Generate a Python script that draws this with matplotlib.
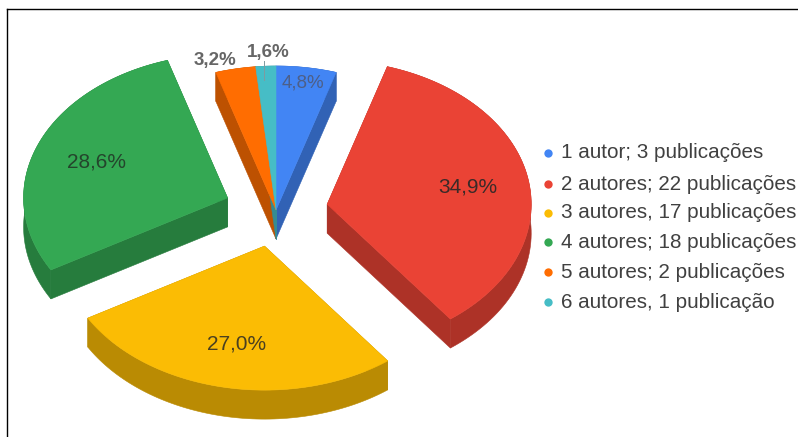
import numpy as np
import matplotlib
matplotlib.use("Agg")
import matplotlib.pyplot as plt
from matplotlib.lines import Line2D
from matplotlib.patches import Polygon
from matplotlib.colors import to_rgb

plt.rcParams['font.family'] = ['Liberation Sans', 'DejaVu Sans']

# Publicações por número de autores
categorias = ["1 autor; 3 publicações", "2 autores; 22 publicações",
              "3 autores, 17 publicações", "4 autores; 18 publicações",
              "5 autores; 2 publicações", "6 autores, 1 publicação"]
publicacoes = [3, 22, 17, 18, 2, 1]
cores = ["#4285F4", "#EA4335", "#FBBC04", "#34A853", "#FF6D01", "#46BDC6"]

# Geometria da pizza em pixels
CX, CY = 276, 210
RX, RY = 204, 144
ALTURA = 29
afastamento = [0, 52, 58, 52, 0, 0]
raio_rotulo = [0.89, 0.70, 0.69, 0.69, None, None]
rotulo_fora = {4: (215, 60), 5: (268, 52)}
cor_rotulo = ["#4d5f88", "#3a2a28", "#4a4020", "#24452c", "#666666", "#666666"]
tam_rotulo = [13.5, 15, 15, 15, 13.5, 13.5]

fig = plt.figure(figsize=(7.98, 4.37), dpi=100)
ax = fig.add_axes([0, 0, 1, 1])
ax.set_xlim(0, 798)
ax.set_ylim(437, 0)
ax.axis("off")


def ponto(x0, y0, ang, r=1.0):
    # ang em graus, a partir do topo e em sentido horário
    a = np.radians(ang)
    return x0 + RX * r * np.sin(a), y0 - RY * r * np.cos(a)


def arco_fatia(x0, y0, a1, a2):
    xs, ys = ponto(x0, y0, np.linspace(a1, a2, 80))
    return np.column_stack([xs, ys])


def paredes(x0, y0, a1, a2, cor):
    escura = tuple(c * 0.74 for c in to_rgb(cor))
    arco = arco_fatia(x0, y0, a1, a2)
    centro = np.array([x0, y0])
    base = np.array([0, ALTURA])
    for canto in (arco[0], arco[-1]):
        ax.add_patch(Polygon([centro, canto, canto + base, centro + base],
                             fc=escura, ec=escura, lw=0.4))
    ax.add_patch(Polygon(np.vstack([arco, arco[::-1] + base]),
                         fc=escura, ec=escura, lw=0.4))


def topo(x0, y0, a1, a2, cor):
    arco = arco_fatia(x0, y0, a1, a2)
    ax.add_patch(Polygon(np.vstack([[x0, y0], arco]), fc=cor, ec=cor, lw=0.4))


total = sum(publicacoes)
limites = np.cumsum([0] + publicacoes) / total * 360
centros = []
for i in range(len(publicacoes)):
    meio = (limites[i] + limites[i + 1]) / 2
    a = np.radians(meio)
    x0 = CX + afastamento[i] * np.sin(a)
    y0 = CY - afastamento[i] * RY / RX * np.cos(a) * 0.9
    centros.append((x0, y0, meio))

# primeiro todas as paredes, depois os topos por cima
for i in range(len(publicacoes)):
    paredes(centros[i][0], centros[i][1], limites[i], limites[i + 1], cores[i])
for i in range(len(publicacoes)):
    topo(centros[i][0], centros[i][1], limites[i], limites[i + 1], cores[i])

for i, v in enumerate(publicacoes):
    txt = f"{v / total * 100:.1f}%".replace(".", ",")
    if i in rotulo_fora:
        x, y = rotulo_fora[i]
        ax.text(x, y, txt, color=cor_rotulo[i], fontsize=tam_rotulo[i], fontweight="bold",
                ha="center", va="center")
    else:
        x, y = ponto(centros[i][0], centros[i][1], centros[i][2], raio_rotulo[i])
        ax.text(x, y, txt, color=cor_rotulo[i], fontsize=tam_rotulo[i], ha="center", va="center")

# linha guia do menor rótulo
ax.plot([264, 264], [61, 80], color="#7f9aa0", lw=0.7)

# legenda
y_legenda = [153, 184, 213, 242, 272, 302]
for nome, cor, y in zip(categorias, cores, y_legenda):
    ax.plot(548, y, "o", color=cor, ms=6, mec="none")
    ax.text(561, y, nome, color="#404040", fontsize=14.9, va="center", ha="left")

# moldura superior e esquerda
fig.add_artist(Line2D([7.3 / 798, 7.3 / 798], [0, 1 - 9.3 / 437], color="black", lw=1.0))
fig.add_artist(Line2D([6.8 / 798, 1], [1 - 9.3 / 437, 1 - 9.3 / 437], color="black", lw=1.0))

fig.savefig("out.png", dpi=100)
